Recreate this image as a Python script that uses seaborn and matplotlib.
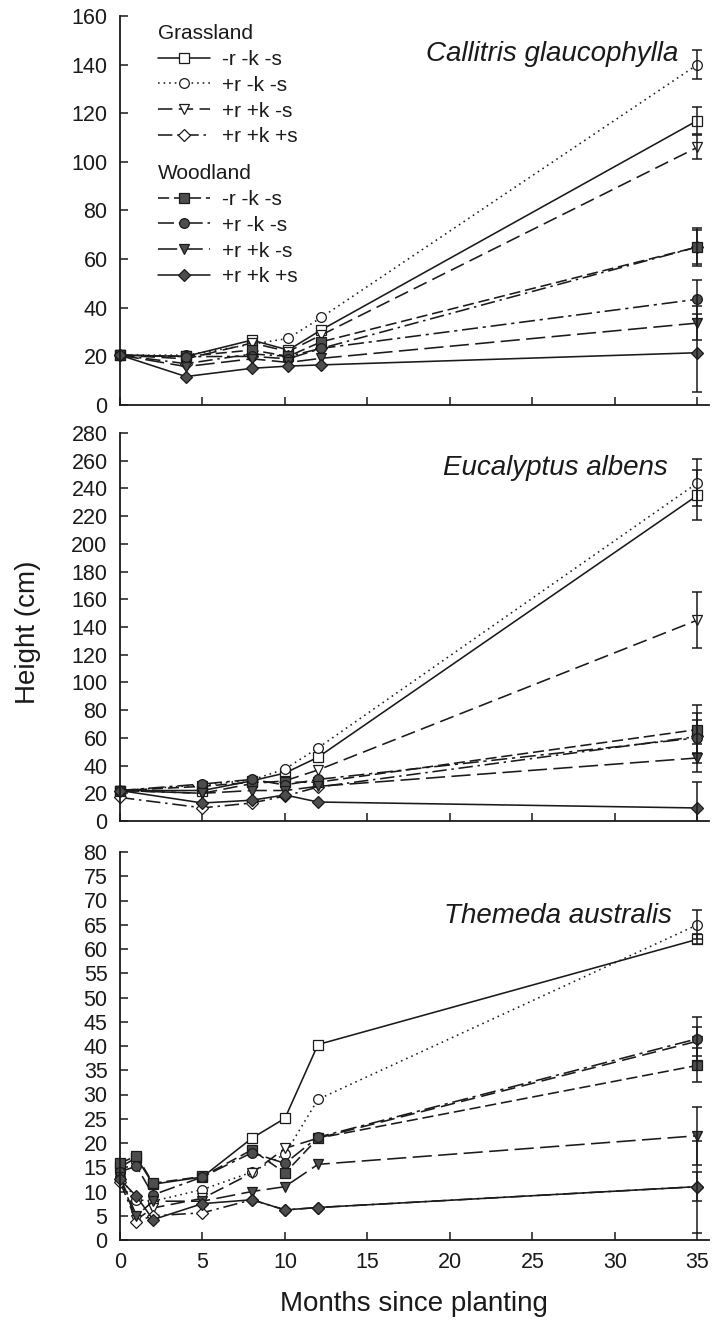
import matplotlib
matplotlib.use("Agg")
import matplotlib.pyplot as plt
import seaborn as sns
from matplotlib.lines import Line2D

# ---------------- data ----------------
treatments = ["-r -k -s", "+r -k -s", "+r +k -s", "+r +k +s"]

# Callitris glaucophylla
months_cal = [0, 4, 8, 10.2, 12.2, 35]
cal_g_rks = [20.5, 20.0, 26.7, 22.6, 30.9, 117]
cal_g_Rks = [20.5, 20.5, 25.0, 27.4, 36.0, 140]
cal_g_RKs = [20.5, 19.0, 25.5, 22.0, 28.8, 106]
cal_g_RKS = [20.5, 17.0, 21.0, 20.0, 23.3, 65]
cal_w_rks = [20.5, 20.0, 22.6, 20.0, 26.0, 65]
cal_w_Rks = [20.5, 19.9, 20.0, 19.0, 23.3, 43.5]
cal_w_RKs = [20.5, 15.8, 19.0, 17.5, 19.2, 33.7]
cal_w_RKS = [20.5, 11.7, 15.1, 16.0, 16.5, 21.5]
cal_err = [5.5, 6, 5, 7, 8, 8, 7, 16]

# Eucalyptus albens
months_euc = [0, 5, 8, 10, 12, 35]
euc_g_rks = [22, 22.0, 29.0, 34.6, 46.0, 235]
euc_g_Rks = [22, 26.0, 29.6, 37.5, 52.7, 244]
euc_g_RKs = [22, 20.0, 27.0, 29.0, 36.8, 145]
euc_g_RKS = [17, 9.5, 13.0, 18.0, 24.5, 61]
euc_w_rks = [22, 25.0, 28.0, 28.0, 28.0, 66]
euc_w_Rks = [22, 26.7, 30.0, 26.0, 30.0, 60]
euc_w_RKs = [22, 20.0, 22.0, 22.0, 25.0, 45.5]
euc_w_RKS = [22, 13.0, 15.0, 18.8, 13.7, 9.4]
euc_err = [18, 17, 20, 12, 18, 18, 10, 19]

# Themeda australis
months_the = [0, 1, 2, 5, 8, 10, 12, 35]
the_g_rks = [15.0, 17.0, 11.5, 13.0, 21.0, 25.1, 40.3, 62]
the_g_Rks = [13.0, 8.3, 8.0, 10.4, 14.0, 17.7, 29.0, 65]
the_g_RKs = [12.8, 4.2, 6.6, 8.6, 13.8, 18.9, 21.0, 41]
the_g_RKS = [12.0, 3.8, 5.0, 5.6, 8.3, 6.2, 6.7, 11]
the_w_rks = [15.8, 17.4, 11.7, 13.1, 18.6, 13.8, 21.0, 36]
the_w_Rks = [14.1, 15.2, 9.3, 13.0, 18.0, 15.8, 21.2, 41.5]
the_w_RKs = [13.0, 5.0, 8.0, 8.0, 10.0, 11.0, 15.6, 21.5]
the_w_RKS = [12.5, 9.0, 4.2, 7.5, 8.3, 6.2, 6.7, 11]
the_err = [1, 3, 3, 3, 3.5, 4.5, 6, 9.5]

# ---------------- style ----------------
sns.set_theme(style="ticks")
plt.rcParams['font.family'] = ['Liberation Sans', 'DejaVu Sans']
plt.rcParams['text.color'] = 'black'
plt.rcParams['axes.labelcolor'] = 'black'
plt.rcParams['xtick.color'] = 'black'
plt.rcParams['ytick.color'] = 'black'

FILL = "#4d4d4d"
LW = 1.15
styles = [
    ("s", "white", "-"),
    ("o", "white", (0, (1, 2.5))),
    ("v", "white", (0, (9, 4))),
    ("D", "white", (0, (9, 3, 1.5, 3))),
    ("s", FILL, (0, (7, 3))),
    ("o", FILL, (0, (10, 3, 2, 3))),
    ("v", FILL, (0, (12, 4))),
    ("D", FILL, "-"),
]
MS = {"s": 6.5, "o": 7, "v": 7, "D": 6.5}

W, H = 714, 1326
fig = plt.figure(figsize=(W / 100, H / 100), dpi=100)


def rect(l, t, r, b):
    return [l / W, 1 - b / H, (r - l) / W, (b - t) / H]


ax1 = fig.add_axes(rect(120, 16, 709, 405))
ax2 = fig.add_axes(rect(120, 433, 709, 821))
ax3 = fig.add_axes(rect(120, 852, 709, 1240))


def draw(ax, months, series, errs):
    for vals, err, (mk, fc, ls) in zip(series, errs, styles):
        sns.lineplot(x=months, y=vals, ax=ax, color="k", linestyle=ls, lw=LW,
                     marker=mk, markersize=MS[mk], markerfacecolor=fc,
                     markeredgecolor="k", markeredgewidth=0.9, sort=False,
                     estimator=None, errorbar=None, legend=False, clip_on=False)
        ax.errorbar([months[-1]], [vals[-1]], yerr=[err], fmt="none", ecolor="k",
                    elinewidth=1.1, capsize=3.6, capthick=1.1)


draw(ax1, months_cal, [cal_g_rks, cal_g_Rks, cal_g_RKs, cal_g_RKS,
                       cal_w_rks, cal_w_Rks, cal_w_RKs, cal_w_RKS], cal_err)
draw(ax2, months_euc, [euc_g_rks, euc_g_Rks, euc_g_RKs, euc_g_RKS,
                       euc_w_rks, euc_w_Rks, euc_w_RKs, euc_w_RKS], euc_err)
draw(ax3, months_the, [the_g_rks, the_g_Rks, the_g_RKs, the_g_RKS,
                       the_w_rks, the_w_Rks, the_w_RKs, the_w_RKS], the_err)

for ax, top, step in [(ax1, 160, 20), (ax2, 280, 20), (ax3, 80, 5)]:
    ax.set_xlim(0, 35.7)
    ax.set_ylim(0, top)
    ax.set_xticks(range(0, 36, 5))
    ax.set_yticks(range(0, top + 1, step))
    sns.despine(ax=ax)
    for s in ("left", "bottom"):
        ax.spines[s].set_linewidth(1.3)
        ax.spines[s].set_color("k")
    ax.tick_params(direction="in", length=6, width=1.1, color="k",
                   labelsize=15.5, labelcolor="k")
    ax.tick_params(axis="y", pad=9)
    ax.tick_params(axis="x", pad=9)
    ax.set_xlabel("")
    ax.set_ylabel("")
ax1.tick_params(axis="x", labelbottom=False)
ax2.tick_params(axis="x", labelbottom=False)

ax1.text(0.947, 0.902, "Callitris glaucophylla", transform=ax1.transAxes,
         ha="right", va="center", fontsize=20, style="italic", color="k")
ax2.text(0.930, 0.910, "Eucalyptus albens", transform=ax2.transAxes,
         ha="right", va="center", fontsize=20, style="italic", color="k")
ax3.text(0.937, 0.835, "Themeda australis", transform=ax3.transAxes,
         ha="right", va="center", fontsize=20, style="italic", color="k")

fig.text(28 / W, 1 - 632 / H, "Height (cm)", rotation=90, ha="center",
         va="center", fontsize=20, color="k")
fig.text(414 / W, 1 - 1304 / H, "Months since planting", ha="center",
         va="center", fontsize=20, color="k")


def handles(sub):
    return [Line2D([], [], color="k", lw=LW, linestyle=ls, marker=mk,
                   markersize=MS[mk], markerfacecolor=fc, markeredgecolor="k",
                   markeredgewidth=0.9) for mk, fc, ls in sub]


leg_kw = dict(loc="upper left", frameon=False, fontsize=15, title_fontsize=15,
              handlelength=2.5, handletextpad=0.55, labelspacing=0.33,
              borderpad=0, borderaxespad=0, labelcolor="k")
leg1 = ax1.legend(handles=handles(styles[:4]), labels=treatments,
                  title="Grassland", bbox_to_anchor=((158 - 120) / 589, (405 - 24) / 389),
                  **leg_kw)
leg1._legend_box.align = "left"
leg1.get_title().set_color("k")
ax1.add_artist(leg1)
leg2 = ax1.legend(handles=handles(styles[4:]), labels=treatments,
                  title="Woodland", bbox_to_anchor=((158 - 120) / 589, (405 - 164) / 389),
                  **leg_kw)
leg2._legend_box.align = "left"
leg2.get_title().set_color("k")

fig.savefig("out.png", dpi=100)
